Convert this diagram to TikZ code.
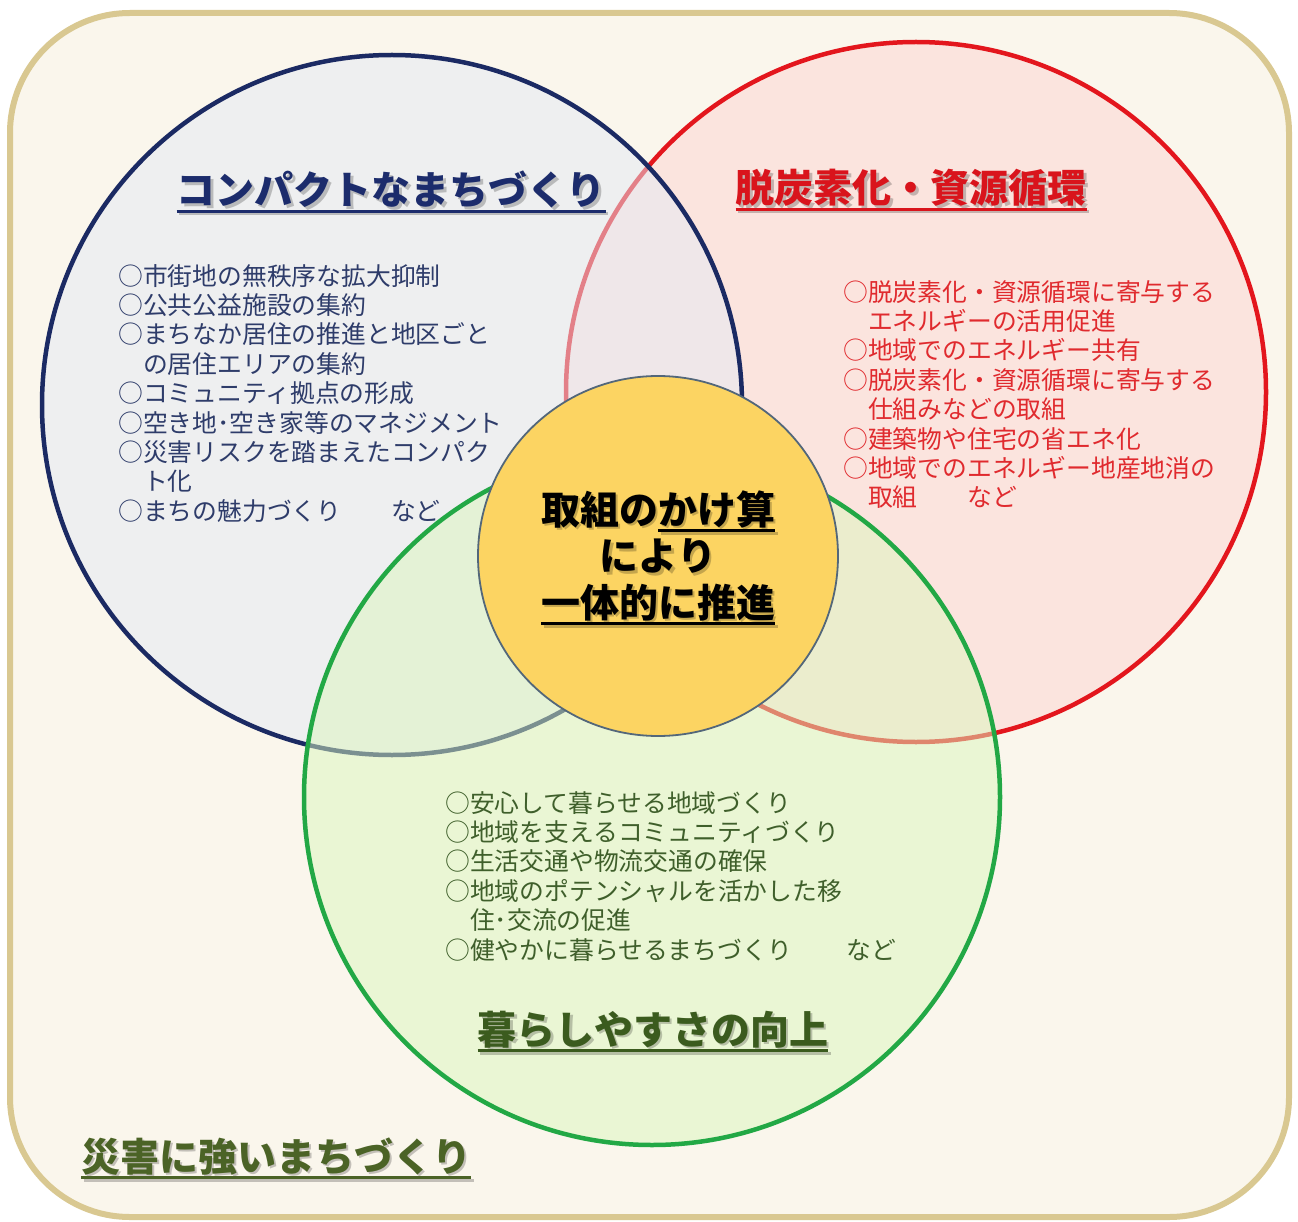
\documentclass[tikz,border=0pt]{standalone}
\usepackage{fontspec}
\setmainfont{Noto Sans CJK JP}
\definecolor{bgc}{HTML}{FAF6EC}
\definecolor{framec}{HTML}{D9C891}
\definecolor{bluec}{HTML}{1B2A63}
\definecolor{bluef}{HTML}{E4EAF4}
\definecolor{redc}{HTML}{E3161D}
\definecolor{redf}{HTML}{FCD4D2}
\definecolor{greenc}{HTML}{22A845}
\definecolor{greenf}{HTML}{DCF6BE}
\definecolor{yelf}{HTML}{FCD462}
\definecolor{yell}{HTML}{53677A}
\definecolor{bluet}{HTML}{1C2C6C}
\definecolor{bluei}{HTML}{2E3C6A}
\definecolor{redt}{HTML}{D9141C}
\definecolor{redi}{HTML}{E02A2E}
\definecolor{greent}{HTML}{3B5B1E}
\definecolor{greeni}{HTML}{3F5F2B}
\definecolor{olivet}{HTML}{4B6326}
\newcommand\myul[1]{\leavevmode\setbox0=\hbox{#1}\rlap{\raisebox{-8pt}{\rule{\wd0}{3pt}}}\box0}
\begin{document}
\begin{tikzpicture}[x=1pt,y=-1pt,
  venn/.style={circle, inner sep=0pt, minimum size=700pt, line width=4.5pt, fill opacity=0.5},
  ttl/.style={anchor=base, inner sep=0pt, font=\fontsize{39}{46}\selectfont\bfseries},
  shd/.style={ttl, text=black, opacity=0.22},
  item/.style={anchor=north west, inner sep=0pt, align=left, font=\fontsize{24.8}{29.4}\selectfont},
  ctr/.style={anchor=center, inner sep=0pt, align=center, font=\fontsize{39}{46.5}\selectfont\bfseries}]
\useasboundingbox (0,0) rectangle (1298,1222);
\draw[line width=6pt, draw=framec, fill=bgc, rounded corners=120pt] (10,13) rectangle (1289,1217);
\node[venn, draw=redc, fill=redf] (R) at (916,392) {};
\node[venn, draw=bluec, fill=bluef] (B) at (392,405) {};
\node[venn, draw=greenc, fill=greenf, minimum size=696pt] (G) at (652,797) {};
\node[circle, inner sep=0pt, minimum size=360pt, fill=yelf, draw=yell, line width=1.8pt] (Y) at (658,556) {};
% titles
\node[shd] (TBs) at (393.5,207.5) {\myul{コンパクトなまちづくり}};
\node[ttl, text=bluet] (TB) at (391,205) {\myul{コンパクトなまちづくり}};
\node[shd] (TRs) at (913.5,205.5) {\myul{脱炭素化・資源循環}};
\node[ttl, text=redt] (TR) at (911,203) {\myul{脱炭素化・資源循環}};
\node[shd] (TGs) at (655.5,1046.5) {\myul{暮らしやすさの向上}};
\node[ttl, text=greent] (TG) at (653,1044) {\myul{暮らしやすさの向上}};
\node[shd] (TDs) at (278.5,1173.5) {\myul{災害に強いまちづくり}};
\node[ttl, text=olivet] (TD) at (276,1171) {\myul{災害に強いまちづくり}};
% center
\node[ctr, text=black, opacity=0.22] (CTs) at (660.5,560.5) {取組の\myul{かけ算}\\により\\\myul{一体的に推進}};
\node[ctr, text=black] (CT) at (658,558) {取組の\myul{かけ算}\\により\\\myul{一体的に推進}};
% items
\node[item, text=bluei] (IB) at (118,264) {○市街地の無秩序な拡大抑制\\
○公共公益施設の集約\\
○まちなか居住の推進と地区ごと\\
　の居住エリアの集約\\
○コミュニティ拠点の形成\\
○空き地･空き家等のマネジメント\\
○災害リスクを踏まえたコンパク\\
　ト化\\
○まちの魅力づくり\hspace{2em}など};
\node[item, text=redi] (IR) at (843,280) {○脱炭素化・資源循環に寄与する\\
　エネルギーの活用促進\\
○地域でのエネルギー共有\\
○脱炭素化・資源循環に寄与する\\
　仕組みなどの取組\\
○建築物や住宅の省エネ化\\
○地域でのエネルギー地産地消の\\
　取組\hspace{2em}など};
\node[item, text=greeni] (IG) at (445,791) {○安心して暮らせる地域づくり\\
○地域を支えるコミュニティづくり\\
○生活交通や物流交通の確保\\
○地域のポテンシャルを活かした移\\
　住･交流の促進\\
○健やかに暮らせるまちづくり\hspace{2.2em}など};
\end{tikzpicture}
\end{document}
